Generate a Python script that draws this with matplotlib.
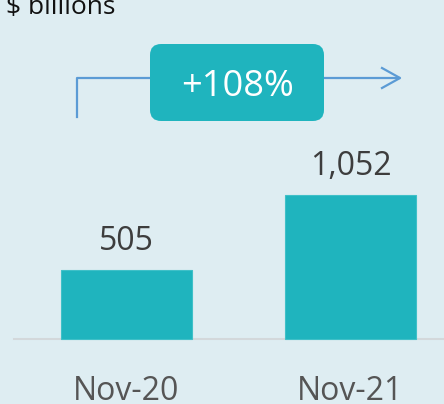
import matplotlib.pyplot as plt
from matplotlib.patches import FancyBboxPatch

# data
categories = ["Nov-20", "Nov-21"]
values = [505, 1052]
value_labels = ["505", "1,052"]
growth_label = "+108%"
unit_label = "$ billions"

bg = "#deedf2"
teal = "#1fb4be"
arrow_col = "#5b9bd5"

plt.rcParams['font.family'] = ['Open Sans', 'DejaVu Sans']

W, H = 444, 404
fig = plt.figure(figsize=(W / 100, H / 100), dpi=100, facecolor=bg)
ax = fig.add_axes([0, 0, 1, 1])
ax.set_facecolor(bg)

# map data onto the picture: bar centres 224 px apart, baseline at y=339 px
px_per_cat = 224.0
x0_px = 126.5
px_per_unit = 144.0 / 1052
base_px = 339
ax.set_xlim(-x0_px / px_per_cat, (W - x0_px) / px_per_cat)
ax.set_ylim(-(H - base_px) / px_per_unit, base_px / px_per_unit)
ax.axis('off')

xs = list(range(len(categories)))
ax.bar(xs, values, width=131 / px_per_cat, color=teal, edgecolor="#3fc0c8", linewidth=0.8, zorder=2)

# baseline
ax.axhline(0, xmin=14 / W, xmax=1, color="#d3d8db", linewidth=1.5, zorder=1)

for x, v, lab in zip(xs, values, value_labels):
    ax.annotate(lab, (x, v), xytext=(0, 20), textcoords='offset pixels',
                ha='center', va='baseline', fontsize=23, color="#3d3d3d")

for x, c in zip(xs, categories):
    ax.annotate(c, (x, 0), xytext=(0, -61), textcoords='offset pixels',
                ha='center', va='baseline', fontsize=23, color="#555555")

# unit label, sits at the very top edge like the original
fig.text(6 / W, 1 - 14 / H, unit_label, ha='left', va='baseline', fontsize=19, color="#111111")

# growth bracket + arrow
def fx(p):
    return p / W

def fy(p):
    return 1 - p / H

fig.add_artist(plt.Line2D([fx(77), fx(77), fx(399)], [fy(117), fy(78), fy(78)],
                          color=arrow_col, linewidth=1.6, transform=fig.transFigure, zorder=1))
fig.add_artist(plt.Line2D([fx(382), fx(400), fx(382)], [fy(68), fy(78), fy(88)],
                          color=arrow_col, linewidth=1.6, transform=fig.transFigure, zorder=1))

box = FancyBboxPatch((fx(150), fy(121)), fx(324) - fx(150), fy(44) - fy(121),
                     boxstyle="round,pad=0,rounding_size=0.025",
                     transform=fig.transFigure, facecolor=teal, edgecolor='none',
                     mutation_aspect=W / H, zorder=2)
fig.add_artist(box)
fig.text(fx(237), fy(96), growth_label, ha='center', va='baseline', fontsize=26,
         color='white', zorder=3)

fig.savefig("out.png", dpi=100, facecolor=bg)
